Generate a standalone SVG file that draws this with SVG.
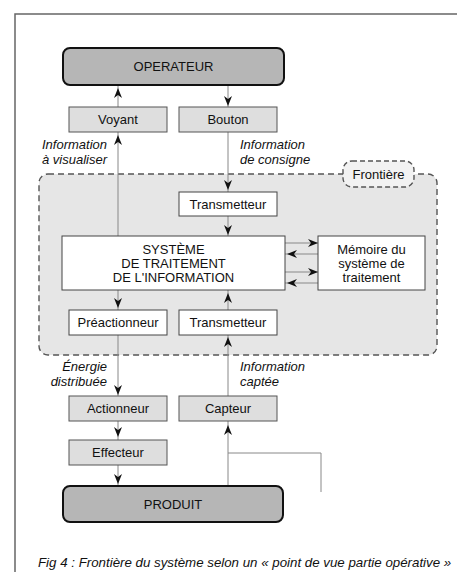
<svg xmlns="http://www.w3.org/2000/svg" xmlns:xlink="http://www.w3.org/1999/xlink" width="457" height="572" viewBox="0 0 457 572">
<style>
text{font-family:"Liberation Sans",Arial,sans-serif;font-size:13px;fill:#111}
.c{text-anchor:middle}
.it{font-style:italic}
.r{text-anchor:end}
.term{fill:#b6b6b6;stroke:#111;stroke-width:2}
.lt{fill:#dedede;stroke:#555;stroke-width:1}
.wh{fill:#fff;stroke:#444;stroke-width:1}
.ln{fill:none;stroke:#888;stroke-width:1}
.ah{fill:#111}
</style>
<defs>
<path id="ad" d="M0,0 L-4,-10 L0,-7 L4,-10 Z"/>
</defs>
<rect width="457" height="572" fill="#fff"/>
<path d="M15,572 V14 H457" fill="none" stroke="#666" stroke-width="1.5"/>
<g id="frontiere">
<rect x="39" y="174" width="398" height="181" rx="9" fill="#e6e6e6" stroke="#555" stroke-width="1.4" stroke-dasharray="6,4"/>
<rect x="343" y="161" width="71" height="26" rx="9" fill="#f2f2f2" stroke="#555" stroke-width="1.4" stroke-dasharray="5,3"/>
<text class="c" x="378.5" y="179">Frontière</text>
</g>
<g id="connectors">
<line class="ln" x1="118" y1="85" x2="118" y2="107"/>
<line class="ln" x1="228" y1="85" x2="228" y2="107"/>
<line class="ln" x1="118" y1="132" x2="118" y2="236"/>
<line class="ln" x1="228" y1="132" x2="228" y2="192"/>
<line class="ln" x1="228" y1="216" x2="228" y2="236"/>
<line class="ln" x1="118" y1="290" x2="118" y2="310"/>
<line class="ln" x1="228" y1="290" x2="228" y2="310"/>
<line class="ln" x1="118" y1="335" x2="118" y2="396"/>
<line class="ln" x1="228" y1="335" x2="228" y2="396"/>
<line class="ln" x1="118" y1="421" x2="118" y2="440"/>
<line class="ln" x1="118" y1="465" x2="118" y2="486"/>
<line class="ln" x1="228" y1="421" x2="228" y2="486"/>
<polyline class="ln" points="228,453 321,453 321,492"/>
<line class="ln" x1="285" y1="243" x2="318" y2="243"/>
<line class="ln" x1="285" y1="254" x2="318" y2="254"/>
<line class="ln" x1="285" y1="272" x2="318" y2="272"/>
<line class="ln" x1="285" y1="283" x2="318" y2="283"/>
<use xlink:href="#ad" class="ah" transform="translate(118,88) rotate(180)"/>
<use xlink:href="#ad" class="ah" transform="translate(228,106)"/>
<use xlink:href="#ad" class="ah" transform="translate(118,135) rotate(180)"/>
<use xlink:href="#ad" class="ah" transform="translate(228,190)"/>
<use xlink:href="#ad" class="ah" transform="translate(228,235)"/>
<use xlink:href="#ad" class="ah" transform="translate(118,308)"/>
<use xlink:href="#ad" class="ah" transform="translate(228,293) rotate(180)"/>
<use xlink:href="#ad" class="ah" transform="translate(228,337) rotate(180)"/>
<use xlink:href="#ad" class="ah" transform="translate(118,395)"/>
<use xlink:href="#ad" class="ah" transform="translate(118,437)"/>
<use xlink:href="#ad" class="ah" transform="translate(118,484)"/>
<use xlink:href="#ad" class="ah" transform="translate(228,425) rotate(180)"/>
<use xlink:href="#ad" class="ah" transform="translate(318,243) rotate(-90)"/>
<use xlink:href="#ad" class="ah" transform="translate(287,254) rotate(90)"/>
<use xlink:href="#ad" class="ah" transform="translate(318,272) rotate(-90)"/>
<use xlink:href="#ad" class="ah" transform="translate(287,283) rotate(90)"/>
<text class="it r" x="107" y="149">Information</text>
<text class="it r" x="107" y="164">à visualiser</text>
<text class="it" x="240" y="149">Information</text>
<text class="it" x="240" y="164">de consigne</text>
<text class="it r" x="107" y="371">Énergie</text>
<text class="it r" x="107" y="386">distribuée</text>
<text class="it" x="240" y="371">Information</text>
<text class="it" x="240" y="386">captée</text>
</g>
<g id="operateur"><rect class="term" x="63" y="48" width="221" height="37" rx="7"/><text class="c" x="173.5" y="71">OPERATEUR</text></g>
<g id="voyant"><rect class="lt" x="69" y="107" width="98" height="25"/><text class="c" x="118" y="124">Voyant</text></g>
<g id="bouton"><rect class="lt" x="179" y="107" width="98" height="25"/><text class="c" x="228" y="124">Bouton</text></g>
<g id="transmetteur1"><rect class="wh" x="179" y="192" width="98" height="24"/><text class="c" x="228" y="209">Transmetteur</text></g>
<g id="systeme"><rect class="wh" x="62" y="236" width="223" height="54"/>
<text class="c" x="173.5" y="254">SYSTÈME</text>
<text class="c" x="173.5" y="268">DE TRAITEMENT</text>
<text class="c" x="173.5" y="282">DE L'INFORMATION</text></g>
<g id="memoire"><rect class="wh" x="318" y="236" width="107" height="54"/>
<text class="c" x="371.5" y="254">Mémoire du</text>
<text class="c" x="371.5" y="268">système de</text>
<text class="c" x="371.5" y="282">traitement</text></g>
<g id="preactionneur"><rect class="wh" x="69" y="310" width="98" height="25"/><text class="c" x="118" y="327">Préactionneur</text></g>
<g id="transmetteur2"><rect class="wh" x="179" y="310" width="98" height="25"/><text class="c" x="228" y="327">Transmetteur</text></g>
<g id="actionneur"><rect class="lt" x="69" y="396" width="98" height="25"/><text class="c" x="118" y="413">Actionneur</text></g>
<g id="capteur"><rect class="lt" x="179" y="396" width="98" height="25"/><text class="c" x="228" y="413">Capteur</text></g>
<g id="effecteur"><rect class="lt" x="69" y="440" width="98" height="25"/><text class="c" x="118" y="457">Effecteur</text></g>
<g id="produit"><rect class="term" x="63" y="486" width="220" height="36" rx="7"/><text class="c" x="173" y="509">PRODUIT</text></g>
<text class="it" x="38" y="567" style="font-size:13.3px">Fig 4 : Frontière du système selon un « point de vue partie opérative »</text>
</svg>
